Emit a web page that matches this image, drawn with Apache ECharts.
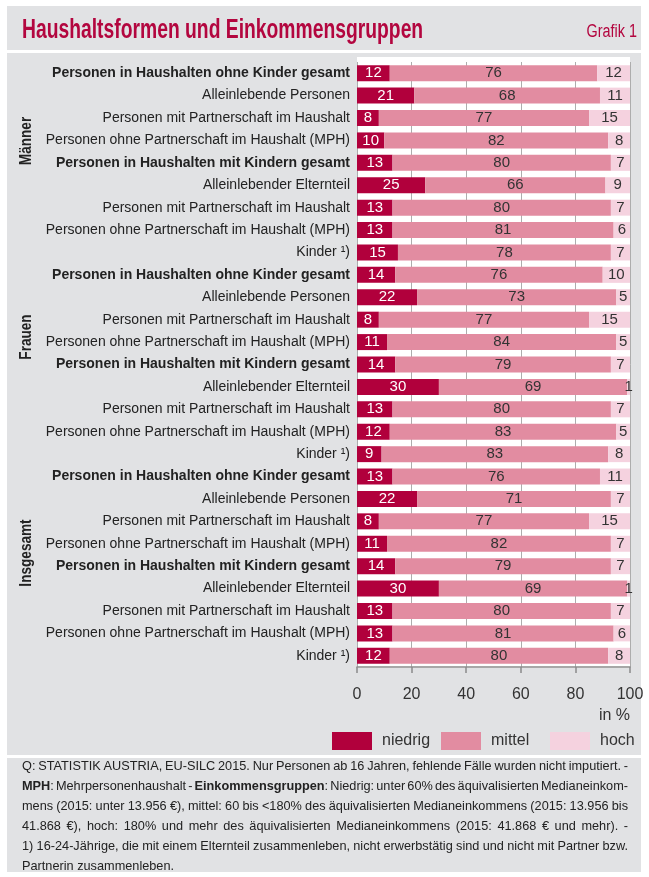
<!DOCTYPE html>
<html>
<head>
<meta charset="utf-8">
<script src="https://cdn.jsdelivr.net/npm/echarts@6/dist/echarts.min.js"></script>
<style>
  html, body { margin: 0; padding: 0; background: #ffffff; }
  #chart { width: 649px; height: 877px; }
</style>
</head>
<body>
<div id="chart"></div>
<script>
var categories = [
    'Personen in Haushalten ohne Kinder gesamt',
    'Alleinlebende Personen',
    'Personen mit Partnerschaft im Haushalt',
    'Personen ohne Partnerschaft im Haushalt (MPH)',
    'Personen in Haushalten mit Kindern gesamt',
    'Alleinlebender Elternteil',
    'Personen mit Partnerschaft im Haushalt',
    'Personen ohne Partnerschaft im Haushalt (MPH)',
    'Kinder \u00b9)',
    'Personen in Haushalten ohne Kinder gesamt',
    'Alleinlebende Personen',
    'Personen mit Partnerschaft im Haushalt',
    'Personen ohne Partnerschaft im Haushalt (MPH)',
    'Personen in Haushalten mit Kindern gesamt',
    'Alleinlebender Elternteil',
    'Personen mit Partnerschaft im Haushalt',
    'Personen ohne Partnerschaft im Haushalt (MPH)',
    'Kinder \u00b9)',
    'Personen in Haushalten ohne Kinder gesamt',
    'Alleinlebende Personen',
    'Personen mit Partnerschaft im Haushalt',
    'Personen ohne Partnerschaft im Haushalt (MPH)',
    'Personen in Haushalten mit Kindern gesamt',
    'Alleinlebender Elternteil',
    'Personen mit Partnerschaft im Haushalt',
    'Personen ohne Partnerschaft im Haushalt (MPH)',
    'Kinder \u00b9)'
];
var groups = ['Männer', 'Frauen', 'Insgesamt'];

var niedrig = [12, 21, 8, 10, 13, 25, 13, 13, 15,
               14, 22, 8, 11, 14, 30, 13, 12, 9,
               13, 22, 8, 11, 14, 30, 13, 13, 12];
var mittel  = [76, 68, 77, 82, 80, 66, 80, 81, 78,
               76, 73, 77, 84, 79, 69, 80, 83, 83,
               76, 71, 77, 82, 79, 69, 80, 81, 80];
var hoch    = [12, 11, 15, 8, 7, 9, 7, 6, 7,
               10, 5, 15, 5, 7, 1, 7, 5, 8,
               11, 7, 15, 7, 7, 1, 7, 6, 8];

var xTicks = [0, 20, 40, 60, 80, 100];

var footLines = [
    'Q: STATISTIK AUSTRIA, EU-SILC 2015. Nur Personen ab 16 Jahren, fehlende Fälle wurden nicht imputiert. -',
    '{b|MPH}: Mehrpersonenhaushalt - {b|Einkommensgruppen}: Niedrig: unter 60% des äquivalisierten Medianeinkom-',
    'mens (2015: unter 13.956 €), mittel: 60 bis <180% des äquivalisierten Medianeinkommens (2015: 13.956 bis',
    '41.868 €), hoch: 180% und mehr des äquivalisierten Medianeinkommens (2015: 41.868 € und mehr). -',
    '1) 16-24-Jährige, die mit einem Elternteil zusammenleben, nicht erwerbstätig sind und nicht mit Partner bzw.',
    'Partnerin zusammenleben.'
];

var fontFam = '"Liberation Sans", Arial, sans-serif';
var colNiedrig = '#b1003c';
var colMittel = '#e28ca1';
var colHoch = '#f5d2df';
var panelGray = '#e1e2e4';
var titleRed = '#b3063f';

var chart = echarts.init(document.getElementById('chart'), null, { renderer: 'canvas' });

function barSeries(name, data, color, labelColor) {
    return {
        name: name,
        type: 'bar',
        stack: 'total',
        barWidth: 16,
        data: data,
        itemStyle: { color: color },
        label: {
            show: true,
            position: 'inside',
            color: labelColor,
            fontFamily: fontFam,
            fontSize: 15
        },
        silent: true
    };
}

function legendAt(name, left) {
    return {
        data: [name],
        left: left,
        top: 732,
        padding: 0,
        itemWidth: 40,
        itemHeight: 18,
        itemGap: 0,
        selectedMode: false,
        icon: 'rect',
        textStyle: { fontFamily: fontFam, fontSize: 16, color: '#333', padding: [0, 0, 0, 5] }
    };
}

// footnote: justified lines, words laid out with measured widths
var footSize = 13;
var footLeft = 22, footRight = 628, footTop = 766, footLH = 20;
var measureCtx = document.createElement('canvas').getContext('2d');
function textWidth(str, bold) {
    measureCtx.font = (bold ? 'bold ' : '') + footSize + 'px ' + fontFam;
    return measureCtx.measureText(str).width;
}
function wordWidth(w) {
    var total = 0;
    w.split(/(\{b\|[^}]*\})/).forEach(function (p) {
        if (!p) return;
        var m = p.match(/^\{b\|([^}]*)\}$/);
        total += m ? textWidth(m[1], true) : textWidth(p, false);
    });
    return total;
}
var spaceW = textWidth(' ');
var footWords = footLines.map(function (l) { return l.split(' '); });
var maxNat = 0;
footWords.forEach(function (words) {
    var w = words.reduce(function (s, x) { return s + wordWidth(x); }, 0) + spaceW * 0.6 * (words.length - 1);
    maxNat = Math.max(maxNat, w);
});
var footScale = Math.min(1, (footRight - footLeft) / maxNat);
var footElems = [];
footWords.forEach(function (words, i) {
    var widths = words.map(wordWidth);
    var sum = widths.reduce(function (s, x) { return s + x; }, 0);
    var gap = i < footWords.length - 1
        ? ((footRight - footLeft) / footScale - sum) / (words.length - 1)
        : spaceW;
    var x = 0;
    words.forEach(function (w, j) {
        footElems.push({
            type: 'text',
            x: footLeft + x * footScale,
            y: footTop + i * footLH,
            scaleX: footScale,
            style: {
                text: w,
                font: footSize + 'px ' + fontFam,
                fill: '#222',
                verticalAlign: 'middle',
                rich: { b: { fontWeight: 'bold', fontSize: footSize, fontFamily: fontFam, fill: '#222' } }
            }
        });
        x += widths[j] + gap;
    });
});

function groupLabel(text, y) {
    return {
        type: 'text', x: 27, y: y, rotation: Math.PI / 2, scaleX: 0.85,
        style: {
            text: text, font: 'bold 16px ' + fontFam, fill: '#222',
            align: 'center', verticalAlign: 'middle'
        }
    };
}

var option = {
    animation: false,
    backgroundColor: '#ffffff',
    textStyle: { fontFamily: fontFam },
    graphic: [
        // panels
        { type: 'rect', z: -10, shape: { x: 7, y: 6, width: 634, height: 44 }, style: { fill: panelGray } },
        { type: 'rect', z: -10, shape: { x: 7, y: 53, width: 634, height: 702 }, style: { fill: panelGray } },
        { type: 'rect', z: -10, shape: { x: 7, y: 758, width: 634, height: 114 }, style: { fill: panelGray } },
        { type: 'rect', z: -9, shape: { x: 357, y: 57, width: 273, height: 611 }, style: { fill: '#ffffff' } },
        // title
        { type: 'text', x: 22, y: 31, scaleX: 0.715, style: {
            text: 'Haushaltsformen und Einkommensgruppen',
            font: 'bold 27px ' + fontFam, fill: titleRed, verticalAlign: 'middle' } },
        { type: 'text', x: 637, y: 32, scaleX: 0.8, style: {
            text: 'Grafik 1', font: '18px ' + fontFam, fill: titleRed,
            align: 'right', verticalAlign: 'middle' } },
        // group labels
        groupLabel(groups[0], 141),
        groupLabel(groups[1], 337),
        groupLabel(groups[2], 553),
        // unit
        { type: 'text', x: 630, y: 716, style: {
            text: 'in %', font: '16px ' + fontFam, fill: '#333',
            align: 'right', verticalAlign: 'middle' } }
    ].concat(footElems),
    legend: [
        legendAt('niedrig', 332),
        legendAt('mittel', 441),
        legendAt('hoch', 550)
    ],
    grid: {
        left: 357,
        right: 19,
        top: 62,
        bottom: 210,
        containLabel: false
    },
    xAxis: {
        type: 'value',
        min: xTicks[0],
        max: xTicks[xTicks.length - 1],
        interval: 20,
        axisLine: { show: true, lineStyle: { color: '#8a8a8a', width: 1.5 } },
        axisTick: { show: true, length: 6, lineStyle: { color: '#8a8a8a', width: 1.5 } },
        axisLabel: { color: '#333', fontSize: 16, fontFamily: fontFam, margin: 20 },
        splitLine: { show: true, lineStyle: { color: '#adadad', width: 1 } }
    },
    yAxis: {
        type: 'category',
        inverse: true,
        data: categories,
        axisLine: { show: false },
        axisTick: { show: false },
        axisLabel: {
            margin: 7,
            color: '#222',
            fontSize: 14,
            fontFamily: fontFam,
            formatter: function (v) {
                return v.indexOf('gesamt') >= 0 ? '{b|' + v + '}' : v;
            },
            rich: {
                b: { fontWeight: 'bold', fontSize: 14, fontFamily: fontFam, color: '#222' }
            }
        }
    },
    series: [
        barSeries('niedrig', niedrig, colNiedrig, '#ffffff'),
        barSeries('mittel', mittel, colMittel, '#333333'),
        barSeries('hoch', hoch, colHoch, '#333333')
    ]
};

chart.setOption(option);
</script>
</body>
</html>
